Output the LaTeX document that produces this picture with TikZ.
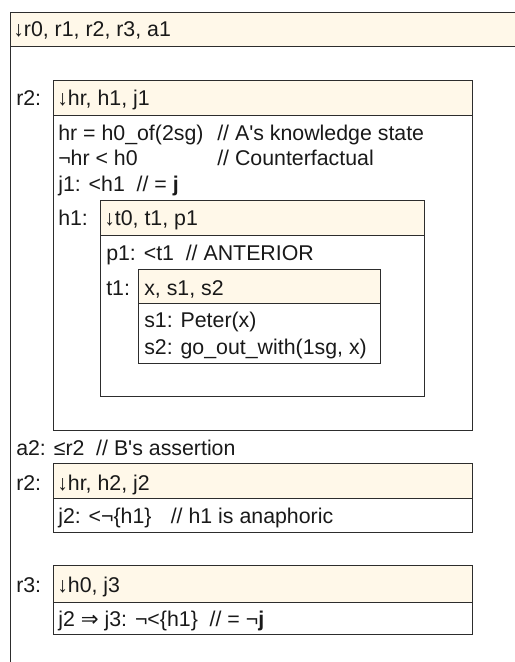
\documentclass[tikz,border=0pt]{standalone}
\usepackage{fontspec}
\setmainfont{Liberation Sans}
\newfontfamily\symbfont{DejaVu Sans}
\usetikzlibrary{positioning}
\definecolor{hdrfill}{RGB}{255,248,233}
\definecolor{boxline}{RGB}{45,45,45}
\definecolor{txt}{RGB}{25,25,25}
\newcommand{\px}{0.75pt}

\begin{document}
\begin{tikzpicture}[x=0.75pt,y=-0.75pt, every node/.style={font=\fontsize{16}{19}\selectfont, text=txt},
    hdr/.style={draw=boxline, fill=hdrfill, line width=1.1pt, rectangle, anchor=north west, inner sep=0pt},
    bodybox/.style={draw=boxline, line width=1.1pt, rectangle, anchor=north west, inner sep=0pt},
    txtline/.style={anchor=base west, inner sep=0pt}]
    \useasboundingbox (0,0) rectangle (515,662);
    \clip (0,0) rectangle (515,662);
    % outer box
    \node[bodybox, minimum width=530*\px, minimum height=690*\px] (outer) at (10,12) {};
    \node[hdr, minimum width=530*\px, minimum height=34*\px] (outerhd) at (10,12) {};
    \node[txtline] (outerv) at (13,36) {↓r0, r1, r2, r3, a1};
    % first r2
    \node[txtline] (r2lbl) at (16,105) {r2:};
    \node[bodybox, minimum width=419*\px, minimum height=315*\px] (r2a) at (53,115) {};
    \node[hdr, minimum width=419*\px, minimum height=35*\px] (r2ahd) at (53,80) {};
    \node[txtline] (r2av) at (57,105) {↓hr, h1, j1};
    \node[txtline] (hrdef) at (58,140) {hr = h0\_of(2sg)};
    \node[txtline] (hrcom) at (217,140) {// A\textquotesingle s knowledge state};
    \node[txtline] (hrneg) at (58,165) {¬hr < h0};
    \node[txtline] (cfcom) at (217,165) {// Counterfactual};
    \node[txtline] (j1def) at (58,191) {j1: <h1\hspace{0.55em}// = \textbf{j}};
    % h1
    \node[txtline] (h1lbl) at (58,225) {h1:};
    \node[bodybox, minimum width=324*\px, minimum height=161*\px] (h1b) at (100,235) {};
    \node[hdr, minimum width=324*\px, minimum height=35*\px] (h1hd) at (100,200) {};
    \node[txtline] (h1v) at (104,225) {↓t0, t1, p1};
    \node[txtline] (p1def) at (106,260) {p1: <t1\hspace{0.55em}// ANTERIOR};
    % t1
    \node[txtline] (t1lbl) at (106,295) {t1:};
    \node[bodybox, minimum width=242*\px, minimum height=60*\px] (t1b) at (138,303) {};
    \node[hdr, minimum width=242*\px, minimum height=34*\px] (t1hd) at (138,269) {};
    \node[txtline] (t1v) at (144,295) {x, s1, s2};
    \node[txtline] (s1def) at (144,327) {s1: Peter(x)};
    \node[txtline] (s2def) at (144,354) {s2: go\_out\_with(1sg, x)};
    % assertion
    \node[txtline] (a2def) at (16,455) {a2: ≤r2\hspace{0.55em}// B\textquotesingle s assertion};
    % second r2
    \node[txtline] (r2blbl) at (16,490) {r2:};
    \node[bodybox, minimum width=419*\px, minimum height=34*\px] (r2b) at (53,498) {};
    \node[hdr, minimum width=419*\px, minimum height=35*\px] (r2bhd) at (53,463) {};
    \node[txtline] (r2bv) at (57,490) {↓hr, h2, j2};
    \node[txtline] (j2def) at (58,523) {j2: <¬\{h1\}\hspace{0.9em}// h1 is anaphoric};
    % r3
    \node[txtline] (r3lbl) at (16,592) {r3:};
    \node[bodybox, minimum width=419*\px, minimum height=32*\px] (r3b) at (53,602) {};
    \node[hdr, minimum width=419*\px, minimum height=37*\px] (r3hd) at (53,565) {};
    \node[txtline] (r3v) at (57,592) {↓h0, j3};
    \node[txtline] (j3def) at (58,626) {j2 {\symbfont ⇒} j3: ¬<\{h1\}\hspace{0.55em}// = ¬\textbf{j}};
\end{tikzpicture}
\end{document}
